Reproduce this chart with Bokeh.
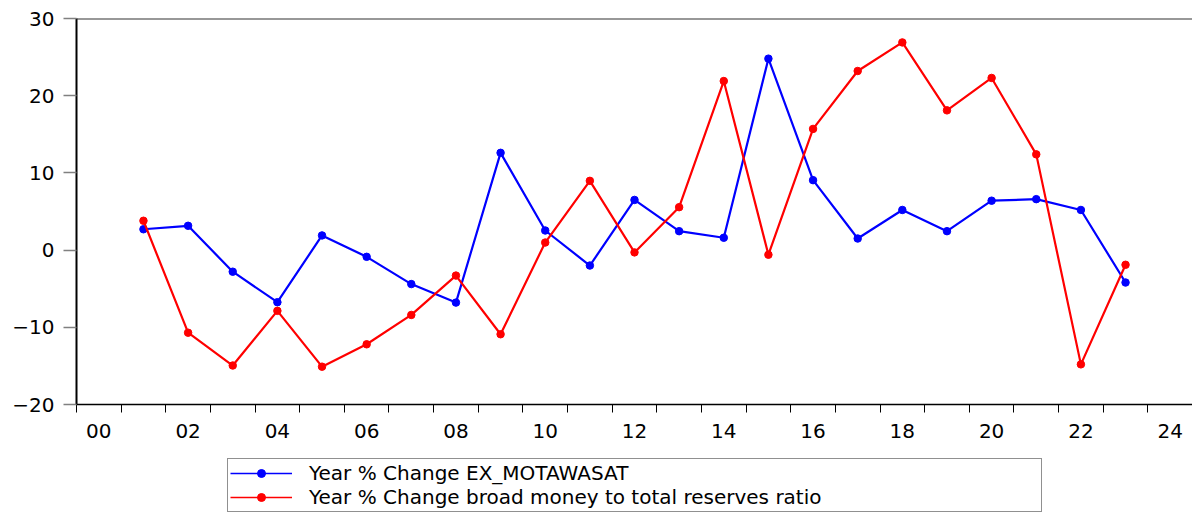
from bokeh.plotting import figure
from bokeh.layouts import column
from bokeh.models import (Range1d, FixedTicker, Legend, LegendItem, Span,
                          CustomJSTickFormatter)
from bokeh.embed import file_html
from bokeh.resources import INLINE

# ---- data ----
years = list(range(2001, 2024))
ex_motawasat = [2.7, 3.15, -2.8, -6.75, 1.9, -0.87, -4.4, -6.8, 12.6, 2.54, -2.0,
                6.5, 2.45, 1.6, 24.8, 9.06, 1.5, 5.2, 2.45, 6.4, 6.6, 5.2, -4.2]
broad_money = [3.8, -10.7, -14.95, -7.87, -15.1, -12.2, -8.4, -3.3, -10.9, 0.98,
               8.97, -0.3, 5.56, 21.9, -0.6, 15.7, 23.2, 26.9, 18.1, 22.3, 12.4,
               -14.8, -1.9]
tick_years = list(range(2000, 2026))
label_years = list(range(2000, 2025, 2))
y_ticks = [-20, -10, 0, 10, 20, 30]
series_labels = ["Year % Change EX_MOTAWASAT",
                 "Year % Change broad money to total reserves ratio"]
series_colors = ["#0000FF", "#FF0000"]

# annual observations drawn at the middle of each year interval
xs = [y + 0.5 for y in years]

FONT = "DejaVu Sans"

p = figure(width=1192, height=455, output_backend="svg", toolbar_location=None,
           x_range=Range1d(2000, 2025), y_range=Range1d(-20, 30),
           min_border_left=76, min_border_right=0, min_border_top=18,
           min_border_bottom=51, outline_line_color=None,
           background_fill_color="white", border_fill_color="white")
p.xgrid.visible = False
p.ygrid.visible = False

# x axis: tick marks at year boundaries, labels centered in even years
xa = p.xaxis[0]
xa.ticker = FixedTicker(ticks=[y + 0.5 for y in label_years], minor_ticks=tick_years)
xa.formatter = CustomJSTickFormatter(
    code="return String(Math.floor(tick) % 100).padStart(2, '0');")
xa.major_tick_out = 0
xa.major_tick_in = 0
xa.minor_tick_out = 8
xa.minor_tick_in = 0
xa.minor_tick_line_color = "black"
xa.minor_tick_line_width = 1
xa.axis_line_color = "black"
xa.axis_line_width = 1.5
xa.major_label_standoff = 11
xa.major_label_text_font = FONT
xa.major_label_text_font_size = "20px"
xa.major_label_text_color = "black"

# y axis
ya = p.yaxis[0]
ya.ticker = FixedTicker(ticks=y_ticks, minor_ticks=[])
ya.major_tick_out = 13
ya.major_tick_in = 0
ya.major_tick_line_color = "#808080"
ya.major_tick_line_width = 1.5
ya.axis_line_color = "black"
ya.axis_line_width = 2
ya.major_label_standoff = 9
ya.major_label_text_font = FONT
ya.major_label_text_font_size = "20px"
ya.major_label_text_color = "black"

# top frame line
p.add_layout(Span(location=30, dimension="width", line_color="#333333", line_width=2))

# series
p.line(xs, ex_motawasat, line_color=series_colors[0], line_width=2.2)
p.scatter(xs, ex_motawasat, marker="circle", size=7.5,
          fill_color=series_colors[0], line_color=series_colors[0])
p.line(xs, broad_money, line_color=series_colors[1], line_width=2.2)
p.scatter(xs, broad_money, marker="circle", size=7.5,
          fill_color=series_colors[1], line_color=series_colors[1])

# ---- legend strip below the chart (its frame is aligned with the chart frame) ----
lg = figure(width=1192, height=58, output_backend="svg", toolbar_location=None,
            x_range=Range1d(0, 1), y_range=Range1d(0, 1),
            x_axis_location=None, y_axis_location=None,
            min_border_left=76, min_border_right=0, min_border_top=0,
            min_border_bottom=0, outline_line_color=None,
            background_fill_color="white", border_fill_color="white")
lg.xgrid.visible = False
lg.ygrid.visible = False
# same series, drawn outside this strip's ranges; only their legend samples show
items = []
for label, vals, col in zip(series_labels, [ex_motawasat, broad_money], series_colors):
    r_line = lg.line(xs, vals, line_color=col, line_width=1.5)
    r_pts = lg.scatter(xs, vals, marker="circle", size=5, fill_color=col, line_color=col)
    items.append(LegendItem(label=label, renderers=[r_line, r_pts]))

legend = Legend(items=items, location=(151, 1), orientation="vertical",
                border_line_color="#222222", border_line_width=1,
                padding=2, spacing=0, margin=0,
                glyph_width=62, glyph_height=20, label_height=20,
                label_standoff=17, label_width=730,
                label_text_font=FONT, label_text_font_size="20px",
                label_text_color="black", background_fill_color="white")
lg.add_layout(legend, "center")

layout = column(p, lg, spacing=0)
open("out.html", "w").write(file_html(layout, INLINE))
